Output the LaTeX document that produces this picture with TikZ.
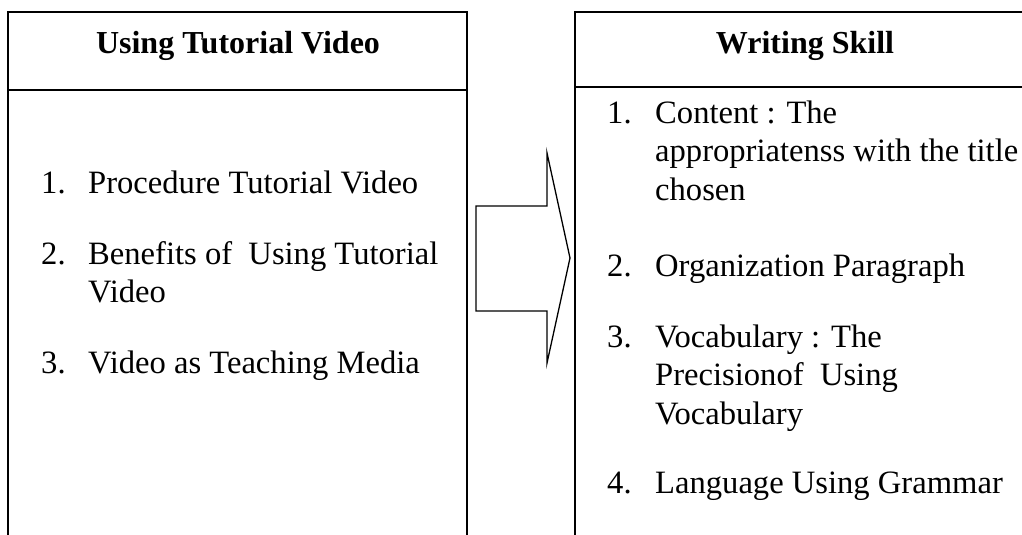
\documentclass[tikz,border=0pt]{standalone}
\usepackage{fontspec}
\setmainfont{Liberation Serif}
\usetikzlibrary{positioning}

\begin{document}
\begin{tikzpicture}[x=1pt, y=-1pt,
    boxline/.style={line width=1.6pt, black},
    headtext/.style={anchor=base, inner sep=0pt, font=\fontsize{32}{37}\selectfont\bfseries},
    numtext/.style={anchor=base west, inner sep=0pt, font=\fontsize{32.6}{38.5}\selectfont},
    itemtext/.style={anchor=base west, inner sep=0pt, align=flush left, text width=380pt,
                     font=\fontsize{32.6}{38.5}\selectfont}]
    % --- Area ---
    \useasboundingbox (0,0) rectangle (1022,535);
    \clip (0,0) rectangle (1022,535);
    % --- Kotak kiri ---
    \draw[boxline] (8,535) -- (8,12) -- (467,12) -- (467,535);
    \draw[boxline] (8,90) -- (467,90);
    \node[headtext] (lhead) at (238,54) {Using Tutorial Video};
    % --- Kotak kanan ---
    \draw[boxline] (575,535) -- (575,12) -- (1040,12);
    \draw[boxline] (575,87) -- (1040,87);
    \node[headtext] (rhead) at (805,54) {Writing Skill};
    % --- Isi kiri ---
    \node[numtext] (ln1) at (41,193) {1.};
    \node[itemtext] (li1) at (88,193) {Procedure Tutorial Video};
    \node[numtext] (ln2) at (41,264) {2.};
    \node[itemtext] (li2) at (88,264) {Benefits of \ Using Tutorial\\Video};
    \node[numtext] (ln3) at (41,373) {3.};
    \node[itemtext] (li3) at (88,373) {Video as Teaching Media};
    % --- Isi kanan ---
    \node[numtext] (rn1) at (607,123) {1.};
    \node[itemtext] (ri1) at (655,123) {Content : The\\appropriatenss with the title\\chosen};
    \node[numtext] (rn2) at (607,276) {2.};
    \node[itemtext] (ri2) at (655,276) {Organization Paragraph};
    \node[numtext] (rn3) at (607,347) {3.};
    \node[itemtext] (ri3) at (655,347) {Vocabulary : The\\Precisionof \ Using\\Vocabulary};
    \node[numtext] (rn4) at (607,493) {4.};
    \node[itemtext] (ri4) at (655,493) {Language Using Grammar};
    % --- Panah ---
    \draw[line width=1.3pt, line join=miter]
      (476,206) -- (547,206) -- (547,153) -- (570,258) -- (547,363) -- (547,311) -- (476,311) -- cycle;
\end{tikzpicture}
\end{document}
